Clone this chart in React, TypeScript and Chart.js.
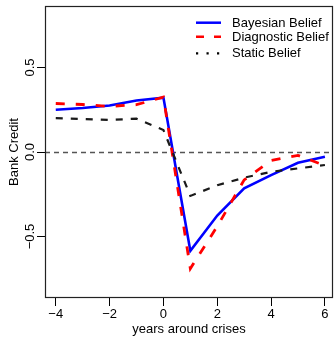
import React, { useEffect, useRef } from "react";
import { Chart, registerables } from "chart.js";
Chart.register(...registerables);

const years = [-4, -3, -2, -1, 0, 1, 2, 3, 4, 5, 6];
const bayesianBelief = [0.25, 0.26, 0.275, 0.305, 0.322, -0.585, -0.376, -0.215, -0.137, -0.064, -0.028];
const diagnosticBelief = [0.287, 0.281, 0.27, 0.28, 0.325, -0.69, -0.44, -0.165, -0.05, -0.02, -0.08];
const staticBelief = [0.2, 0.195, 0.19, 0.197, 0.13, -0.26, -0.197, -0.152, -0.117, -0.097, -0.077];
const seriesNames = ["Bayesian Belief", "Diagnostic Belief", "Static Belief"];
const xTicks = [-4, -2, 0, 2, 4, 6];
const yTicks = [-0.5, 0, 0.5];
const xTitle = "years around crises";
const yTitle = "Bank Credit";

const FONT = "'Liberation Sans', Arial, Helvetica, sans-serif";

const fmtX = (v: number) => (v < 0 ? "\u2212" + Math.abs(v) : String(v));
const fmtY = (v: number) => (v < 0 ? "\u2212" + Math.abs(v).toFixed(1) : v.toFixed(1));

const boxPlugin = {
  id: "boxAndZero",
  beforeDatasetsDraw(chart: any) {
    const { ctx, chartArea } = chart;
    const y0 = Math.round(chart.scales.y.getPixelForValue(0)) + 0.5;
    ctx.save();
    ctx.strokeStyle = "#555";
    ctx.lineWidth = 1.5;
    ctx.setLineDash([5, 4]);
    ctx.beginPath();
    ctx.moveTo(chartArea.left, y0);
    ctx.lineTo(chartArea.right, y0);
    ctx.stroke();
    ctx.restore();
  },
  afterDraw(chart: any) {
    const { ctx, chartArea } = chart;
    ctx.save();
    ctx.strokeStyle = "#222";
    ctx.lineWidth = 1.2;
    ctx.setLineDash([]);
    const l = Math.round(chartArea.left) + 0.5;
    const t = Math.round(chartArea.top) + 0.5;
    const r = Math.round(chartArea.right) - 0.5;
    const b = Math.round(chartArea.bottom) - 0.5;
    ctx.strokeRect(l, t, r - l, b - t);

    // legend inside plot, top-right
    const rowsY = [22.7, 36.8, 53.3];
    const x1 = 196;
    const x2 = 221;
    const tx = 232;
    const legendStyles = [
      { color: "#0000ff", width: 2.5, dash: [] as number[], cap: "butt" },
      { color: "#ff0000", width: 2.5, dash: [8, 10], cap: "butt" },
      { color: "#000000", width: 2.2, dash: [2.2, 8.3], cap: "butt" },
    ];
    ctx.font = `13px ${FONT}`;
    ctx.textBaseline = "middle";
    ctx.textAlign = "left";
    chart.data.datasets.forEach((ds: any, i: number) => {
      const st = legendStyles[i];
      ctx.strokeStyle = st.color;
      ctx.lineWidth = st.width;
      ctx.lineCap = st.cap;
      ctx.setLineDash(st.dash);
      ctx.beginPath();
      ctx.moveTo(x1, rowsY[i]);
      ctx.lineTo(x2, rowsY[i]);
      ctx.stroke();
      ctx.fillStyle = "#000";
      ctx.fillText(ds.label, tx, rowsY[i] + 0.5);
    });
    ctx.restore();
  },
};

export default function App() {
  const ref = useRef<HTMLCanvasElement | null>(null);
  useEffect(() => {
    if (!ref.current) return;
    const toPts = (arr: number[]) => years.map((x, i) => ({ x, y: arr[i] }));
    const chart = new Chart(ref.current, {
      type: "line",
      data: {
        datasets: [
          {
            label: seriesNames[0],
            data: toPts(bayesianBelief),
            borderColor: "#0000ff",
            borderWidth: 2.6,
            pointRadius: 0,
            tension: 0,
            order: 3,
          },
          {
            label: seriesNames[1],
            data: toPts(diagnosticBelief),
            borderColor: "#ff0000",
            borderWidth: 2.8,
            borderDash: [9, 11],
            pointRadius: 0,
            tension: 0,
            order: 2,
          },
          {
            label: seriesNames[2],
            data: toPts(staticBelief),
            borderColor: "#1a1a1a",
            borderWidth: 2.2,
            borderDash: [7, 8],
            pointRadius: 0,
            tension: 0,
            order: 1,
          },
        ],
      },
      options: {
        responsive: false,
        animation: false,
        events: [],
        layout: { padding: { top: 6, right: 3, left: 0, bottom: 0 } },
        plugins: {
          legend: { display: false },
          tooltip: { enabled: false },
        },
        scales: {
          x: {
            type: "linear",
            min: -4.4,
            max: 6.3,
            afterBuildTicks: (s: any) => {
              s.ticks = xTicks.map((v) => ({ value: v }));
            },
            afterFit: (s: any) => {
              s.height = 39;
            },
            border: { display: false },
            grid: {
              drawOnChartArea: false,
              drawTicks: true,
              tickLength: 8,
              tickColor: "#000",
              lineWidth: 1,
            },
            ticks: {
              color: "#000",
              font: { family: FONT, size: 13 },
              padding: 1,
              maxRotation: 0,
              autoSkip: false,
              callback: (v: any) => fmtX(Number(v)),
            },
            title: {
              display: true,
              text: xTitle,
              color: "#000",
              font: { family: FONT, size: 13 },
              padding: { top: 0, bottom: 0 },
            },
          },
          y: {
            type: "linear",
            min: -0.864,
            max: 0.864,
            afterBuildTicks: (s: any) => {
              s.ticks = yTicks.map((v) => ({ value: v }));
            },
            afterFit: (s: any) => {
              s.width = 45;
            },
            border: { display: false },
            grid: {
              drawOnChartArea: false,
              drawTicks: true,
              tickLength: 8,
              tickColor: "#000",
              lineWidth: 1,
            },
            ticks: {
              color: "#000",
              font: { family: FONT, size: 13 },
              minRotation: 90,
              maxRotation: 90,
              crossAlign: "center",
              padding: -6,
              autoSkip: false,
              callback: (v: any) => fmtY(Number(v)),
            },
            title: {
              display: true,
              text: yTitle,
              color: "#000",
              font: { family: FONT, size: 13 },
              padding: { top: 7, bottom: 0 },
            },
          },
        },
      } as any,
      plugins: [boxPlugin],
    });
    return () => chart.destroy();
  }, []);
  return (
    <div style={{ position: "absolute", left: 0, top: 0, width: 336, height: 337, background: "#fff" }}>
      <canvas ref={ref} width={336} height={337} style={{ display: "block" }} />
    </div>
  );
}
